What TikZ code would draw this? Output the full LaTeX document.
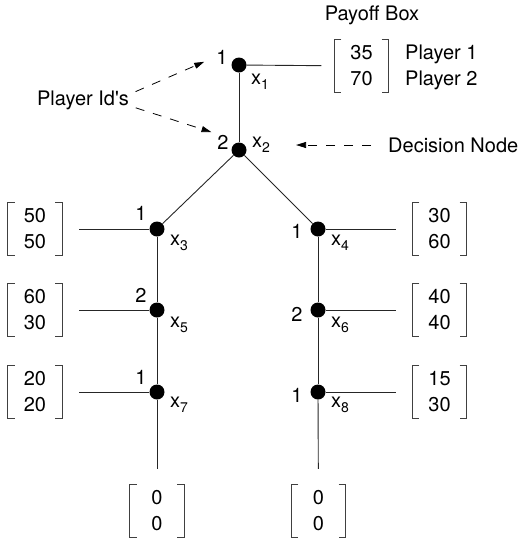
\documentclass[tikz,border=0pt]{standalone}
\usepackage{fontspec}
\setmainfont{TeX Gyre Heros}[Ligatures=TeXOff]
\usetikzlibrary{positioning, arrows.meta}

% variable name with a lowered index
\newcommand{\xsub}[1]{x\raisebox{-5pt}{\fontsize{14}{14}\selectfont #1}}

% payoff vector between square brackets: name, position, entries
\newcommand{\payoffbox}[3]{%
  \node[payoff] (#1) at (#2) {#3};
  \draw[bracket] ([xshift=7pt]#1.north west) -- (#1.north west) -- (#1.south west) -- ++(7pt,0);
  \draw[bracket] ([xshift=-7pt]#1.north east) -- (#1.north east) -- (#1.south east) -- ++(-7pt,0);
}

\begin{document}
\begin{tikzpicture}[x=1pt, y=-1pt,
    every node/.style={font=\fontsize{20}{26}\selectfont, inner sep=1pt},
    dot/.style={circle, fill=black, inner sep=0pt, minimum size=15pt},
    edge/.style={line width=0.9pt, black!85},
    payoff/.style={align=center, minimum width=54pt, minimum height=52pt, inner sep=0pt},
    bracket/.style={line width=1.1pt, black!75},
    hint/.style={dash pattern=on 9pt off 9pt, line width=0.8pt, -{Triangle[length=10pt, width=6pt]}}
]
    \useasboundingbox (0,0) rectangle (531,539);

    % === Decision nodes ===
    \node[dot] (x1) at (239,65) {};
    \node[dot] (x2) at (239,150) {};
    \node[dot] (x3) at (157,229) {};
    \node[dot] (x4) at (318,229) {};
    \node[dot] (x5) at (157,310) {};
    \node[dot] (x6) at (318,310) {};
    \node[dot] (x7) at (157,392) {};
    \node[dot] (x8) at (318,392) {};

    % Player ids and node names
    \node (id1) at ([shift={(-17,-8)}]x1) {1};
    \node (lx1) at ([shift={(21,17)}]x1) {\xsub{1}};
    \node (id2) at ([shift={(-16,-8)}]x2) {2};
    \node (lx2) at ([shift={(22,-5)}]x2) {\xsub{2}};
    \node (id3) at ([shift={(-16,-16)}]x3) {1};
    \node (lx3) at ([shift={(22,14)}]x3) {\xsub{3}};
    \node (id4) at ([shift={(-21,2)}]x4) {1};
    \node (lx4) at ([shift={(22,14)}]x4) {\xsub{4}};
    \node (id5) at ([shift={(-16,-15)}]x5) {2};
    \node (lx5) at ([shift={(22,15)}]x5) {\xsub{5}};
    \node (id6) at ([shift={(-21,4)}]x6) {2};
    \node (lx6) at ([shift={(22,15)}]x6) {\xsub{6}};
    \node (id7) at ([shift={(-16,-15)}]x7) {1};
    \node (lx7) at ([shift={(22,13)}]x7) {\xsub{7}};
    \node (id8) at ([shift={(-21,3)}]x8) {1};
    \node (lx8) at ([shift={(22,13)}]x8) {\xsub{8}};

    % === Payoffs ===
    \payoffbox{pay1}{361.5,66}{35\\70}
    \payoffbox{pay3}{35,229}{50\\50}
    \payoffbox{pay4}{439.5,229}{30\\60}
    \payoffbox{pay5}{35,310}{60\\30}
    \payoffbox{pay6}{439.5,310}{40\\40}
    \payoffbox{pay7}{35,392}{20\\20}
    \payoffbox{pay8}{439.5,392}{15\\30}
    \payoffbox{pay9}{157,511}{0\\0}
    \payoffbox{pay10}{318.5,511}{0\\0}

    \node (paylabel) at (372,15) {Payoff Box};
    \node[anchor=west] (pl1) at (404,54) {Player 1};
    \node[anchor=west] (pl2) at (404,80) {Player 2};

    % === Tree ===
    \draw[edge] (x1) -- (x2);
    \draw[edge] (x2) -- (x3);
    \draw[edge] (x2) -- (x4);
    \draw[edge] (x3) -- (x5);
    \draw[edge] (x5) -- (x7);
    \draw[edge] (x4) -- (x6);
    \draw[edge] (x6) -- (x8);
    \draw[edge, shorten >=16pt] (x7) -- (pay9);
    \draw[edge, shorten >=16pt] (x8) -- (pay10);

    % moves that end the game
    \draw[edge, shorten >=13pt] (x1) -- (pay1);
    \draw[edge, shorten >=17pt] (x3) -- (pay3);
    \draw[edge, shorten >=17pt] (x5) -- (pay5);
    \draw[edge, shorten >=17pt] (x7) -- (pay7);
    \draw[edge, shorten >=16pt] (x4) -- (pay4);
    \draw[edge, shorten >=16pt] (x6) -- (pay6);
    \draw[edge, shorten >=16pt] (x8) -- (pay8);

    % === Annotations ===
    \node (ids) at (83,100) {Player Id's};
    \node[anchor=west] (dec) at (387,145) {Decision Node};
    \draw[hint, shorten <=6pt, shorten >=12pt] ([yshift=6pt]ids.east) -- (id1.west);
    \draw[hint, shorten <=6pt, shorten >=5pt] ([yshift=-6pt]ids.east) -- (id2.north west);
    \draw[hint, shorten <=16pt, shorten >=25pt] (dec.west) -- (lx2.east);

\end{tikzpicture}
\end{document}
